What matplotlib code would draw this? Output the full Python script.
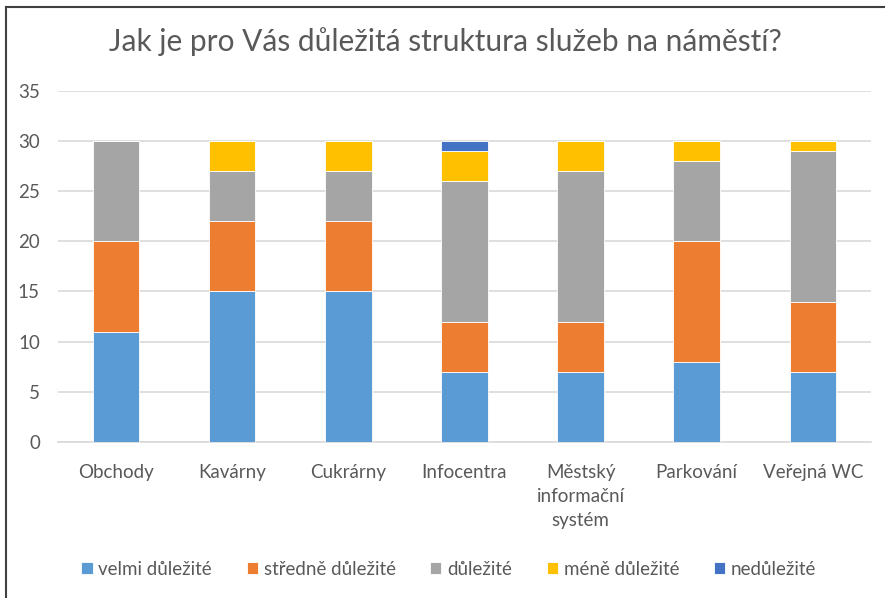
import numpy as np
import matplotlib.pyplot as plt

# ── Data ────────────────────────────────────────────────────────────────
categories = ['Obchody', 'Kavárny', 'Cukrárny', 'Infocentra',
              'Městský\ninformační\nsystém', 'Parkování', 'Veřejná WC']
series_names = ['velmi důležité', 'středně důležité', 'důležité',
                'méně důležité', 'nedůležité']
velmi = [11, 15, 15, 7, 7, 8, 7]
stredne = [9, 7, 7, 5, 5, 12, 7]
dulezite = [10, 5, 5, 14, 15, 8, 15]
mene = [0, 3, 3, 3, 3, 2, 1]
nedulezite = [0, 0, 0, 1, 0, 0, 0]
y_ticks = [0, 5, 10, 15, 20, 25, 30, 35]

colors = ['#5B9BD5', '#ED7D31', '#A5A5A5', '#FFC000', '#4472C4']
text_color = '#595959'

plt.rcParams['font.family'] = ['Lato', 'DejaVu Sans']

fig = plt.figure(figsize=(8.85, 5.98), dpi=100)
fig.patch.set_facecolor('white')
ax = fig.add_axes([0.0655, 0.261, 0.9185, 0.587])

x = np.arange(len(categories))
bottom = np.zeros(len(categories))
for name, vals, col in zip(series_names,
                           [velmi, stredne, dulezite, mene, nedulezite],
                           colors):
    ax.bar(x, vals, width=0.4, bottom=bottom, color=col, label=name,
           edgecolor='white', linewidth=0.6, zorder=3)
    bottom += np.array(vals)

ax.set_xlim(-0.5, len(categories) - 0.5)
ax.set_ylim(0, 35)
ax.set_yticks(y_ticks)
ax.yaxis.grid(True, color='#D9D9D9', linewidth=1.2, zorder=0)
ax.set_axisbelow(True)
for side in ['top', 'right', 'left']:
    ax.spines[side].set_visible(False)
ax.spines['bottom'].set_color('#D9D9D9')
ax.spines['bottom'].set_linewidth(1.2)

ax.set_xticks(x)
ax.set_xticklabels(categories, fontsize=13.5, color=text_color,
                   linespacing=1.5)
ax.tick_params(axis='x', length=0, pad=16)
ax.tick_params(axis='y', length=0, pad=13, labelsize=13.5,
               labelcolor=text_color)

fig.text(0.503, 0.93, 'Jak je pro Vás důležitá struktura služeb na náměstí?',
         ha='center', va='center', fontsize=21.5, color=text_color)

leg = fig.legend(loc='center', bbox_to_anchor=(0.507, 0.048), ncol=5,
                 frameon=False, fontsize=13.5, handlelength=0.6,
                 handleheight=0.6, handletextpad=0.3, columnspacing=1.85)
for t in leg.get_texts():
    t.set_color(text_color)

# frame lines on the left and top edge
fig.add_artist(plt.Line2D([0.0068, 0.0068], [0, 0.988], color='#404040',
                          linewidth=1.5, transform=fig.transFigure))
fig.add_artist(plt.Line2D([0.0068, 1], [0.988, 0.988], color='#404040',
                          linewidth=1.5, transform=fig.transFigure))

plt.savefig('out.png', dpi=100, facecolor='white')
